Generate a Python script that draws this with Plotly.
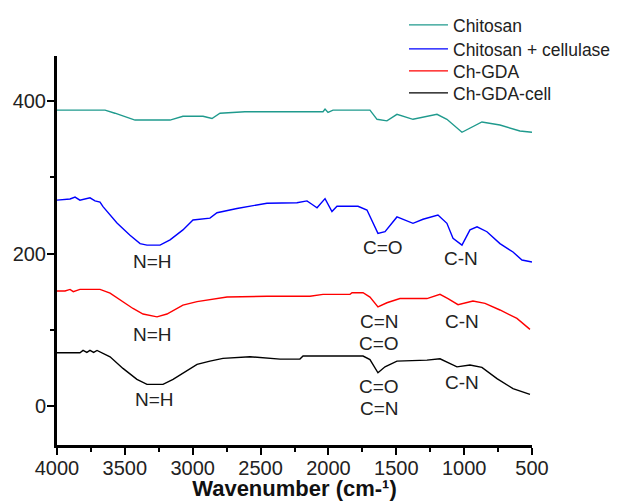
import plotly.graph_objects as go

# ---------------- data ----------------
series_names = ["Chitosan", "Chitosan + cellulase", "Ch-GDA", "Ch-GDA-cell"]

chitosan_wn = [4000, 3646, 3573, 3425, 3167, 3072, 2924, 2858, 2799, 2615, 2040, 2025, 2003,
               1966, 1841, 1694, 1642, 1569, 1495, 1377, 1200, 1127, 1016, 869, 736, 589, 500]
chitosan_val = [388, 388, 384, 375, 375, 380, 380, 377, 384, 386, 386, 389.5, 385,
                388, 388, 388, 376, 374, 382.5, 376, 382.5, 376, 359, 372.5, 368.5, 360.7, 359]

cellulase_wn = [4000, 3904, 3867, 3831, 3757, 3720, 3683, 3661, 3558, 3462, 3388, 3337, 3241,
                3167, 3072, 2998, 2873, 2821, 2674, 2453, 2232, 2158, 2114, 2084, 2025, 1974,
                1937, 1782, 1716, 1679, 1635, 1583, 1495, 1377, 1303, 1193, 1127, 1082, 1016,
                957, 905, 832, 736, 640, 574, 500]
cellulase_val = [270, 271.5, 274, 270, 273, 269, 267.5, 261.5, 240, 224, 213, 211, 211,
                 218, 231, 244, 246.5, 253.5, 259, 266, 266.6, 269, 263.6, 260, 272, 255,
                 262, 262, 257, 244, 226.5, 228.6, 248, 239.6, 245, 250.5, 239.6, 220, 211,
                 231, 235, 228.6, 213, 202, 191.5, 189]

chgda_wn = [4000, 3941, 3904, 3880, 3831, 3683, 3609, 3514, 3440, 3366, 3263, 3190, 3072,
            2968, 2851, 2747, 2453, 2136, 2040, 1841, 1826, 1745, 1694, 1635, 1569, 1473,
            1274, 1178, 1119, 1045, 935, 846, 736, 611, 515]
chgda_val = [151, 151, 153, 150, 153, 153, 148, 137, 128, 120.7, 117, 120.7, 132.5,
             137, 140, 143, 144, 144, 146.5, 146.5, 148.6, 148.6, 143, 130, 135.5, 141,
             141, 146.5, 141, 133, 137.7, 134.7, 126, 115, 100.6]

chgdacell_wn = [4000, 3831, 3808, 3780, 3757, 3730, 3705, 3609, 3514, 3411, 3337, 3219, 3145,
                3042, 2968, 2873, 2777, 2578, 2357, 2210, 2187, 2011, 1745, 1694, 1635, 1583,
                1495, 1274, 1178, 1053, 957, 869, 758, 640, 515]
chgdacell_val = [70, 70, 73, 70.5, 73, 70.5, 73, 64.7, 49.4, 35, 28.5, 28.5, 35,
                 47, 54.7, 59, 62.6, 64.7, 61.6, 61.6, 65.6, 65.6, 65.6, 61, 43.7, 51.5,
                 59, 60.3, 62, 51.5, 53.8, 50.8, 36, 23, 15.3]

# peak labels: text, wavenumber, value
peak_text = ["N=H", "C=O", "C-N",
             "N=H", "C=N", "C=O", "C-N",
             "N=H", "C=O", "C=N", "C-N"]
peak_wn = [3293, 1598, 1023,
           3293, 1627, 1627, 1016,
           3285, 1627, 1627, 1016]
peak_val = [189, 208.5, 194,
            94.4, 111.5, 82.6, 111.5,
            9, 26, -2.6, 31.5]

x_ticks = [4000, 3500, 3000, 2500, 2000, 1500, 1000, 500]
y_ticks = [0, 200, 400]

# ---------------- figure ----------------
FONT = "Liberation Sans, Arial, sans-serif"
colors = ["#1f9a8d", "#0000ff", "#ff0000", "#000000"]
wns = [chitosan_wn, cellulase_wn, chgda_wn, chgdacell_wn]
vals = [chitosan_val, cellulase_val, chgda_val, chgdacell_val]
legend_ids = ["legend", "legend2", "legend3", "legend4"]
legend_y = [1.0797, 1.018, 0.9614, 0.9049]

fig = go.Figure()
for name, wx, vy, c, lid in zip(series_names, wns, vals, colors, legend_ids):
    fig.add_trace(go.Scatter(x=wx, y=vy, mode="lines", name=name,
                             line=dict(color=c, width=1.4), legend=lid))

for t, xw, yv in zip(peak_text, peak_wn, peak_val):
    fig.add_annotation(x=xw, y=yv, text=t, showarrow=False,
                       font=dict(family=FONT, size=19, color="#222222"),
                       xanchor="center", yanchor="middle")

legend_common = dict(x=0.7305, xanchor="left", yanchor="middle",
                     bgcolor="rgba(0,0,0,0)", borderwidth=0,
                     font=dict(family=FONT, size=17.5, color="#222222"),
                     itemwidth=39)
layout_legends = {}
for lid, ly in zip(legend_ids, legend_y):
    layout_legends[lid] = dict(legend_common, y=ly)

# the page body adds an 8px offset, so the figure is 8px smaller and shifted margins
fig.update_layout(
    width=614, height=493,
    margin=dict(l=49, r=90, t=48, b=56, autoexpand=False),
    paper_bgcolor="white", plot_bgcolor="white",
    font=dict(family=FONT, size=20, color="#222222"),
    showlegend=True,
    **layout_legends,
)

fig.update_xaxes(
    range=[4000, 500], tickvals=x_ticks, ticktext=[str(v) for v in x_ticks],
    showgrid=False, zeroline=False,
    showline=True, linecolor="black", linewidth=3,
    ticks="outside", ticklen=7, tickwidth=2, tickcolor="black",
    tickfont=dict(family=FONT, size=20, color="#222222"),
    ticklabelstandoff=-4,
    minor=dict(ticks="outside", ticklen=4, tickwidth=2, tickcolor="black", dtick=250, tick0=500),
    title=dict(text="<b>Wavenumber (cm-¹)</b>", font=dict(family=FONT, size=22, color="#111111"),
               standoff=0),
    automargin=False,
)
fig.update_yaxes(
    range=[-51, 459], tickvals=y_ticks, ticktext=[str(v) for v in y_ticks],
    showgrid=False, zeroline=False,
    showline=True, linecolor="black", linewidth=3,
    ticks="outside", ticklen=7, tickwidth=2, tickcolor="black",
    tickfont=dict(family=FONT, size=20, color="#222222"),
    ticklabelstandoff=-3,
    minor=dict(ticks="outside", ticklen=4, tickwidth=2, tickcolor="black", dtick=100, tick0=0),
    automargin=False,
)

fig.write_html("out.html")
